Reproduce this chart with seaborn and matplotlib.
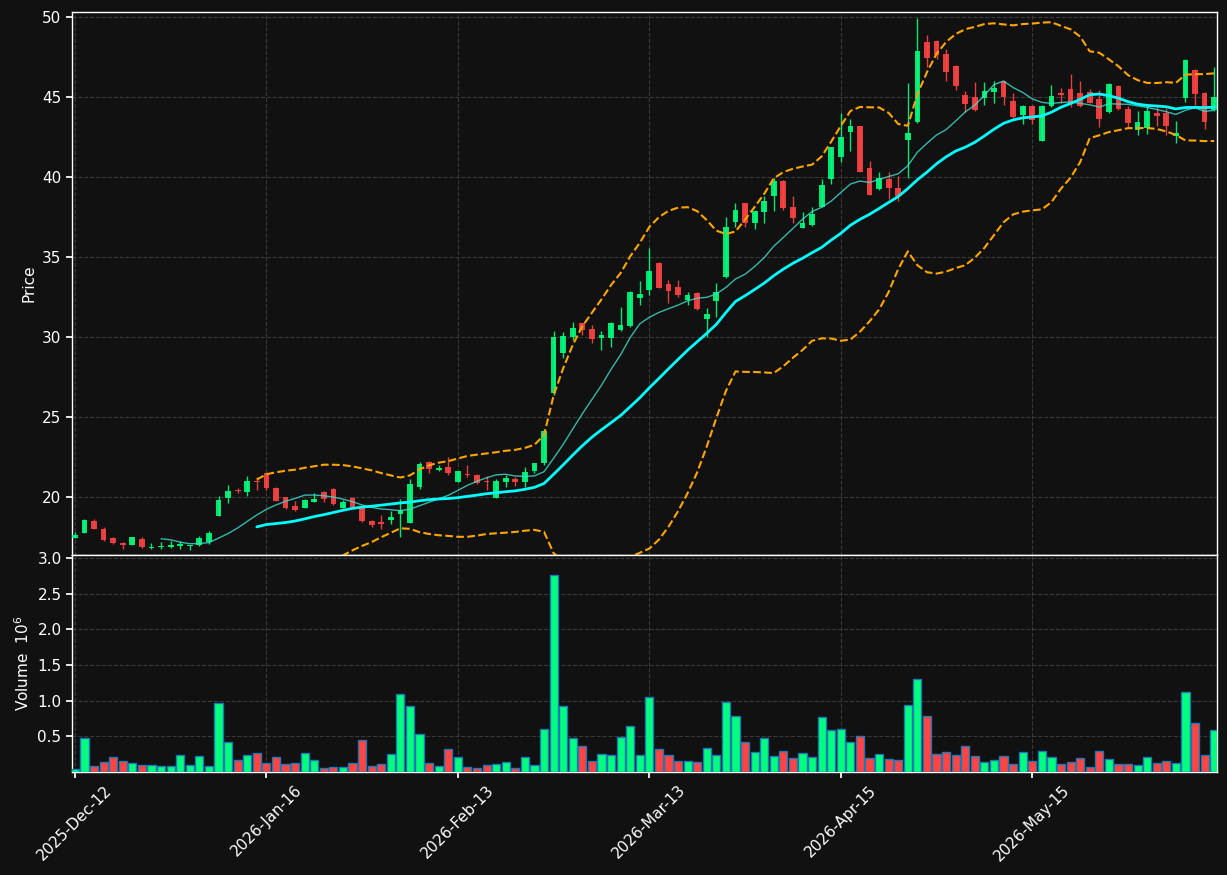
import matplotlib
matplotlib.use("Agg")
import matplotlib.pyplot as plt
import numpy as np
import pandas as pd
import seaborn as sns

# tick labels every 20 bars
tick_pos = [0, 20, 40, 60, 80, 100]
tick_labels = ['2025-Dec-12', '2026-Jan-16', '2026-Feb-13', '2026-Mar-13', '2026-Apr-15', '2026-May-15']

opens = [17.46, 17.77, 18.50, 18.00, 17.44, 17.10, 17.00, 17.38, 16.84, 16.87,
         16.88, 16.94, 16.96, 16.98, 17.17, 18.83, 19.96, 20.42, 20.33, 21.02,
         21.48, 20.56, 19.98, 19.44, 19.33, 19.71, 20.31, 20.50, 19.33, 19.94,
         19.40, 18.50, 18.44, 18.56, 18.94, 18.40, 20.60, 22.19, 21.69, 21.88,
         20.96, 21.44, 21.38, 21.02, 19.96, 20.94, 21.13, 20.96, 21.65, 22.15,
         26.48, 29.02, 30.00, 30.85, 30.50, 29.96, 29.96, 30.46, 30.71, 32.44,
         32.96, 34.63, 33.31, 33.13, 32.31, 32.75, 31.13, 32.27, 33.77, 37.17,
         38.35, 37.14, 37.83, 38.83, 39.77, 38.15, 36.83, 37.00, 38.15, 39.88,
         41.27, 42.81, 43.19, 40.56, 39.25, 39.85, 39.29, 42.31, 43.46, 48.42,
         48.50, 47.69, 46.94, 45.13, 44.98, 44.94, 45.31, 45.98, 44.75, 43.85,
         44.44, 42.27, 44.46, 45.27, 45.50, 45.27, 45.31, 44.88, 44.08, 45.69,
         44.25, 42.96, 43.06, 43.98, 44.00, 42.56, 44.96, 46.69, 45.23, 44.19]
highs = [17.83, 18.65, 18.60, 18.10, 17.53, 17.20, 17.52, 17.50, 17.15, 17.20,
         17.25, 17.25, 17.02, 17.55, 17.85, 20.06, 20.73, 20.56, 21.31, 21.27,
         21.54, 20.60, 20.00, 19.73, 19.85, 20.22, 20.38, 20.54, 19.80, 20.00,
         19.45, 18.56, 18.88, 19.10, 19.90, 21.10, 22.19, 22.22, 22.02, 22.48,
         21.65, 22.02, 21.42, 21.29, 21.10, 21.35, 21.27, 21.85, 22.15, 24.25,
         30.38, 30.31, 30.94, 30.90, 30.77, 30.40, 30.96, 31.86, 32.85, 33.50,
         35.56, 34.70, 33.56, 33.56, 32.80, 32.80, 31.80, 33.35, 37.52, 38.35,
         38.40, 37.95, 38.80, 39.96, 39.80, 38.80, 37.80, 38.10, 39.90, 41.90,
         43.98, 43.65, 43.20, 40.98, 40.31, 40.31, 40.06, 45.85, 49.92, 48.88,
         48.55, 47.98, 47.00, 45.38, 45.92, 45.92, 46.00, 46.00, 45.25, 44.50,
         44.50, 44.50, 45.73, 45.58, 46.42, 45.98, 45.50, 45.44, 45.85, 45.75,
         44.44, 44.10, 44.44, 44.40, 44.30, 43.50, 47.35, 46.75, 45.30, 46.90]
lows = [17.42, 17.75, 17.97, 17.22, 17.08, 16.78, 16.97, 16.80, 16.75, 16.78,
        16.83, 16.73, 16.70, 16.94, 17.06, 18.80, 19.60, 20.27, 20.06, 20.45,
        20.45, 19.72, 19.23, 19.10, 19.30, 19.67, 19.70, 19.50, 19.30, 19.30,
        18.45, 18.10, 17.98, 18.30, 17.50, 18.35, 20.48, 21.48, 21.60, 21.40,
        20.94, 21.27, 20.83, 20.44, 19.94, 20.60, 20.70, 20.60, 21.50, 22.00,
        26.40, 28.70, 29.80, 30.15, 29.60, 29.20, 29.40, 30.40, 30.60, 32.00,
        32.60, 33.05, 32.15, 32.50, 32.00, 31.70, 30.00, 31.27, 33.70, 36.86,
        36.90, 36.75, 37.10, 37.90, 37.95, 37.10, 36.80, 36.95, 38.10, 39.56,
        40.92, 41.60, 40.30, 38.85, 39.20, 38.60, 38.50, 39.92, 43.40, 46.90,
        47.36, 46.00, 45.44, 44.08, 44.10, 44.50, 44.60, 44.50, 43.70, 43.31,
        43.31, 42.27, 44.40, 44.60, 44.35, 44.40, 44.60, 43.15, 44.00, 44.20,
        43.08, 42.60, 42.70, 43.20, 42.60, 42.10, 44.70, 44.50, 42.98, 44.10]
closes = [17.63, 18.56, 18.00, 17.31, 17.14, 17.03, 17.50, 16.88, 16.90, 16.95,
          17.00, 17.08, 17.00, 17.44, 17.73, 19.81, 20.38, 20.36, 21.00, 20.96,
          20.56, 19.77, 19.33, 19.19, 19.81, 19.88, 19.90, 19.58, 19.69, 19.35,
          18.52, 18.25, 18.33, 18.77, 19.19, 20.81, 22.06, 21.77, 21.83, 21.52,
          21.63, 21.38, 20.90, 20.94, 21.00, 21.19, 20.96, 21.56, 22.13, 24.13,
          30.00, 30.06, 30.56, 30.44, 29.88, 30.13, 30.88, 30.75, 32.81, 32.69,
          34.13, 33.08, 32.90, 32.65, 32.60, 31.75, 31.44, 32.83, 36.90, 37.94,
          37.14, 37.88, 38.50, 39.77, 38.04, 37.46, 37.13, 37.69, 39.48, 41.85,
          42.48, 43.19, 40.33, 38.90, 39.92, 39.33, 38.81, 42.77, 47.88, 47.46,
          47.63, 46.58, 45.71, 44.56, 44.19, 45.38, 45.56, 45.02, 43.77, 44.44,
          43.56, 44.44, 45.06, 45.10, 44.58, 44.46, 44.65, 43.63, 45.81, 44.27,
          43.40, 43.42, 44.13, 43.81, 43.21, 42.73, 47.31, 45.21, 43.46, 44.98]
# volume in millions
volumes = [0.04, 0.47, 0.08, 0.135, 0.205, 0.15, 0.12, 0.094, 0.094, 0.08,
           0.08, 0.233, 0.094, 0.22, 0.08, 0.96, 0.415, 0.163, 0.233, 0.26,
           0.12, 0.205, 0.107, 0.12, 0.26, 0.163, 0.05, 0.065, 0.065, 0.12,
           0.443, 0.08, 0.107, 0.247, 1.09, 0.92, 0.53, 0.12, 0.08, 0.32,
           0.205, 0.065, 0.05, 0.094, 0.107, 0.135, 0.05, 0.205, 0.094, 0.60,
           2.755, 0.92, 0.47, 0.36, 0.15, 0.247, 0.233, 0.486, 0.64, 0.233,
           1.046, 0.32, 0.233, 0.15, 0.15, 0.135, 0.33, 0.233, 0.976, 0.79,
           0.415, 0.275, 0.47, 0.22, 0.29, 0.19, 0.26, 0.205, 0.766, 0.584,
           0.60, 0.425, 0.51, 0.19, 0.247, 0.177, 0.163, 0.934, 1.31, 0.78,
           0.247, 0.275, 0.233, 0.36, 0.22, 0.135, 0.163, 0.22, 0.107, 0.275,
           0.15, 0.29, 0.205, 0.107, 0.135, 0.19, 0.065, 0.30, 0.177, 0.107,
           0.107, 0.094, 0.205, 0.12, 0.15, 0.12, 1.116, 0.68, 0.233, 0.584]

BG = '#111111'
UP = '#00ff7f'
DOWN = '#ff4444'

df = pd.DataFrame({'open': opens, 'high': highs, 'low': lows, 'close': closes, 'volume': volumes})
df['idx'] = np.arange(len(df))
df['ma10'] = df['close'].rolling(10).mean()
df['ma20'] = df['close'].rolling(20).mean()
std20 = df['close'].rolling(20).std()
df['bb_up'] = df['ma20'] + 2 * std20
df['bb_lo'] = df['ma20'] - 2 * std20
colors = np.where(df['close'] >= df['open'], UP, DOWN)

sns.set_theme(style="dark", rc={
    'figure.facecolor': BG, 'axes.facecolor': BG, 'axes.edgecolor': 'white',
    'text.color': 'white', 'axes.labelcolor': 'white',
    'xtick.color': 'white', 'ytick.color': 'white',
    'xtick.bottom': True, 'ytick.left': True,
})
plt.rcParams['font.family'] = ['DejaVu Sans']

fig = plt.figure(figsize=(12.27, 8.75), dpi=100)
ax1 = fig.add_axes([0.0587, 0.3657, 0.9332, 0.6206])
ax2 = fig.add_axes([0.0587, 0.1177, 0.9332, 0.248], sharex=ax1)

# candles
ax1.vlines(df['idx'], df['low'], df['high'], color=colors, linewidth=1, alpha=0.9, zorder=3)
body = (df['close'] - df['open']).abs().clip(lower=0.06)
ax1.bar(df['idx'], body, bottom=df[['open', 'close']].min(axis=1), width=0.6,
        color=colors, edgecolor='none', linewidth=0, alpha=0.9, zorder=4)

# moving averages and bands
sns.lineplot(data=df, x='idx', y='ma10', ax=ax1, color='#40e0d0', linewidth=1, alpha=0.8, zorder=5)
sns.lineplot(data=df, x='idx', y='ma20', ax=ax1, color='#00ffff', linewidth=2, zorder=5)
sns.lineplot(data=df, x='idx', y='bb_up', ax=ax1, color='orange', linewidth=1.5, linestyle='--', zorder=5)
sns.lineplot(data=df, x='idx', y='bb_lo', ax=ax1, color='orange', linewidth=1.5, linestyle='--', zorder=5)

ax1.set_ylim(16.375, 50.31)
ax1.set_xlim(-0.3, 119.3)
ax1.set_yticks([20, 25, 30, 35, 40, 45, 50])
ax1.set_ylabel('Price', fontsize=11)
ax1.set_xlabel('')
ax1.tick_params(axis='x', labelbottom=False, length=0)
ax1.tick_params(axis='y', labelsize=11, length=4)

# volume
ax2.bar(df['idx'], df['volume'], width=0.85, color=colors, edgecolor='#1f77b4', linewidth=1, zorder=3)
ax2.set_ylim(0, 3.04)
ax2.set_yticks([0.5, 1.0, 1.5, 2.0, 2.5, 3.0])
ax2.set_ylabel('Volume  $10^{6}$', fontsize=11)
ax2.set_xticks(tick_pos)
ax2.set_xticklabels(tick_labels, rotation=45, ha='center', fontsize=11)
ax2.tick_params(axis='both', labelsize=11, length=4)

for ax in (ax1, ax2):
    ax.set_xticks(tick_pos)
    ax.grid(True, linestyle='--', color='#444444', linewidth=0.8, alpha=0.8)
    for s in ax.spines.values():
        s.set_color('white')
        s.set_linewidth(1)

fig.savefig('out.png', dpi=100, facecolor=BG)
